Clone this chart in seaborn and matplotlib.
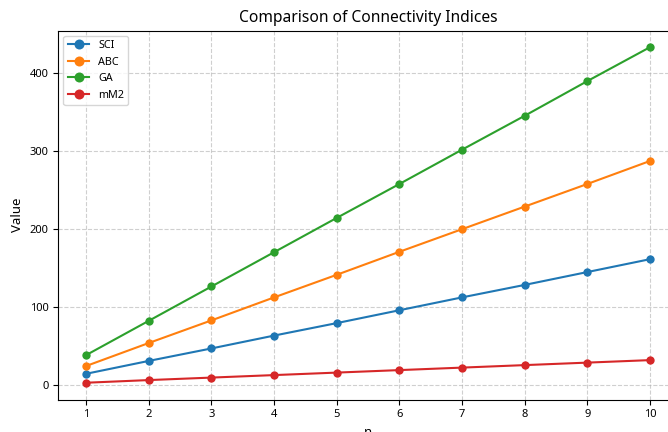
import matplotlib
matplotlib.use("Agg")
import matplotlib.pyplot as plt
import seaborn as sns
import pandas as pd

plt.rcParams['font.family'] = ['Noto Sans', 'DejaVu Sans']

n = [1, 2, 3, 4, 5, 6, 7, 8, 9, 10]
sci = [14.5, 31, 47, 63.5, 79.5, 96, 112.5, 128.5, 145, 161.5]
abc = [24.5, 54, 83, 112.5, 141.5, 171, 200, 229, 258, 287.5]
ga = [38.5, 82.5, 126.5, 170.5, 214.5, 258, 302, 345.5, 390, 433.5]
mm2 = [3, 6.4, 9.6, 12.8, 16, 19.2, 22.4, 25.6, 28.8, 32]

series = {'SCI': sci, 'ABC': abc, 'GA': ga, 'mM2': mm2}
df = pd.concat(
    [pd.DataFrame({'n': n, 'Value': vals, 'Index': name}) for name, vals in series.items()],
    ignore_index=True,
)

fig = plt.figure(figsize=(6.68, 4.32), dpi=100)
ax = fig.add_axes([58 / 668, 32.5 / 432, 620 / 668, 369 / 432])

sns.lineplot(data=df, x='n', y='Value', hue='Index', marker='o', markersize=6,
             markeredgewidth=0, linewidth=1.5, palette='tab10', ax=ax)

ax.set_title('Comparison of Connectivity Indices', fontsize=11.2)
ax.set_xlabel('n', fontsize=9.5)
ax.set_ylabel('Value', fontsize=9.5)
ax.set_xticks(n)
ax.set_yticks([0, 100, 200, 300, 400])
ax.tick_params(labelsize=8)
ax.grid(True, linestyle='--', alpha=0.6)
ax.legend(loc='upper left', fontsize=7.8, title=None, markerscale=1.2)

fig.savefig('out.png', dpi=100)
